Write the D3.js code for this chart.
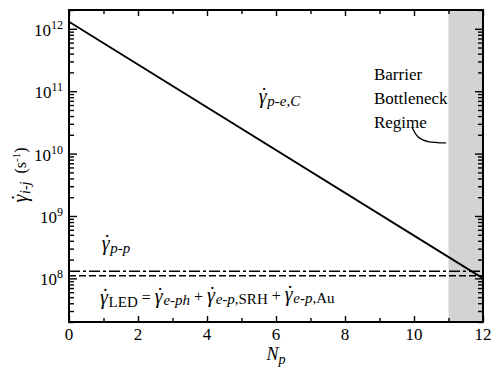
<!DOCTYPE html>
<html>
<head>
<meta charset="utf-8">
<script src="https://d3js.org/d3.v7.min.js"></script>
</head>
<body style="margin:0">
<script>
// values
var npValues = [0, 12]
var gammaPeC = [1.3e12, 1.0e8]
var gammaPp = [1.3e8, 1.3e8]
var gammaLed = [1.1e8, 1.1e8]
var barrierRange = [11, 12]
var xTickLabels = [0, 2, 4, 6, 8, 10, 12]
var yTickExps = [8, 9, 10, 11, 12]
var regimeLines = ["Barrier", "Bottleneck", "Regime"]
var calloutNp = [9.94, 10.12, 10.41, 10.93]
var calloutRate = [2.67e10, 1.85e10, 1.56e10, 1.48e10]

var w = 496, h = 369
var margin = {top:10, right:13, bottom:47, left:69}
var iw = w - margin.left - margin.right
var ih = h - margin.top - margin.bottom
var serif = "Liberation Serif"

var xScale = d3.scaleLinear().domain([0,12]).range([0,iw])
var yScale = d3.scaleLog().domain([2e7,2e12]).range([ih,0])

var svg = d3.select("body").append("svg")
	.attr("width",w).attr("height",h)
var g = svg.append("g").attr("transform","translate("+margin.left+","+margin.top+")")

// shaded barrier bottleneck regime
g.append("rect")
	.attr("x",xScale(barrierRange[0]))
	.attr("y",0)
	.attr("width",xScale(barrierRange[1])-xScale(barrierRange[0]))
	.attr("height",ih)
	.attr("fill","#d3d3d3")

// ticks
var xMajor = xTickLabels
var xMinor = d3.range(1,12,2)
var yMajor = yTickExps.map(function(e){ return Math.pow(10,e) })
var yMinor = []
for(var e=7;e<=12;e++){
	for(var k=2;k<=9;k++){
		var v = k*Math.pow(10,e)
		if(v>=2e7 && v<=2e12) yMinor.push(v)
	}
}

function addAxis(axis, vals, size, tr){
	var a = g.append("g").attr("transform",tr)
		.call(axis.tickValues(vals).tickSize(size).tickFormat(""))
	a.select(".domain").remove()
	a.selectAll("text").remove()
	a.selectAll("line").attr("stroke","#000").attr("stroke-width",1.4)
}
addAxis(d3.axisBottom(xScale), xMajor, -6, "translate(0,"+ih+")")
addAxis(d3.axisBottom(xScale), xMinor, -4, "translate(0,"+ih+")")
addAxis(d3.axisTop(xScale), xMajor, -6, "translate(0,0)")
addAxis(d3.axisTop(xScale), xMinor, -4, "translate(0,0)")
addAxis(d3.axisLeft(yScale), yMajor, -8, "translate(0,0)")
addAxis(d3.axisLeft(yScale), yMinor, -5, "translate(0,0)")
addAxis(d3.axisRight(yScale), yMajor, -8, "translate("+iw+",0)")
addAxis(d3.axisRight(yScale), yMinor, -5, "translate("+iw+",0)")

// tick labels
g.selectAll(".xlab").data(xTickLabels).enter().append("text")
	.attr("class","xlab")
	.attr("x",function(d){ return xScale(d) })
	.attr("y",ih+18)
	.attr("text-anchor","middle")
	.style("font-family",serif)
	.attr("font-size",17)
	.text(function(d){ return d })

var ylab = g.selectAll(".ylab").data(yTickExps).enter().append("text")
	.attr("class","ylab")
	.attr("x",-6)
	.attr("y",function(d){ return yScale(Math.pow(10,d))+7 })
	.attr("text-anchor","end")
	.style("font-family",serif)
	.attr("font-size",17)
ylab.append("tspan").text("10")
ylab.append("tspan").attr("font-size",12).attr("dy",-7).text(function(d){ return d })

// lines
var line = d3.line()
	.x(function(d){ return xScale(d[0]) })
	.y(function(d){ return yScale(d[1]) })

function drawSeries(vals, dash, width){
	g.append("path")
		.datum(npValues.map(function(n,i){ return [n, vals[i]] }))
		.attr("d",line)
		.attr("fill","none")
		.attr("stroke","#000")
		.attr("stroke-width",width)
		.attr("stroke-dasharray",dash)
}
drawSeries(gammaPp, "11,3,3,3", 1.6)
drawSeries(gammaLed, "7,3", 1.6)
drawSeries(gammaPeC, null, 1.8)

// frame
g.append("rect")
	.attr("width",iw).attr("height",ih)
	.attr("fill","none").attr("stroke","#000").attr("stroke-width",2)

// rich text helper: parts with size, italic, shift; gamma gets a dot above
function rich(parent, x, y, parts){
	var t = parent.append("text").attr("x",x).attr("y",y)
		.style("font-family",serif)
	var shift = 0
	parts.forEach(function(p){
		var s = p.shift || 0
		if(p.gamma){
			t.append("tspan").attr("dy",s-shift).attr("font-size",20)
				.attr("font-style","italic").text("\u03b3")
			t.append("tspan").attr("dx",-6).attr("dy",-1).attr("font-size",20).text("\u02d9")
			t.append("tspan").attr("dx",-1).attr("dy",1).attr("font-size",20).text("")
		}else{
			t.append("tspan")
				.attr("dy",s-shift)
				.attr("font-size",p.size)
				.attr("font-style",p.italic ? "italic" : "normal")
				.text(p.t)
		}
		shift = s
	})
	return t
}
var gam = {gamma:true}
var sp = "\u00a0"

rich(g, xScale(5.5), yScale(6.5e10), [
	gam,
	{t:"p-e,C",size:15,italic:true,shift:4}
])
rich(g, xScale(0.95), yScale(2.85e8), [
	gam,
	{t:"p-p",size:15,italic:true,shift:4}
])
rich(g, xScale(0.9), yScale(3.9e7), [
	gam,
	{t:"LED",size:15,shift:4},
	{t:sp+"="+sp,size:16},
	gam,
	{t:"e-ph",size:15,italic:true,shift:3},
	{t:sp+"+"+sp,size:16},
	gam,
	{t:"e-p,",size:15,italic:true,shift:3},
	{t:"SRH",size:15,shift:3},
	{t:sp+"+"+sp,size:16},
	gam,
	{t:"e-p,",size:15,italic:true,shift:3},
	{t:"Au",size:15,shift:3}
])

// y axis title
var yTitle = svg.append("g").attr("transform","translate(27,175) rotate(-90)")
rich(yTitle, 0, 0, [
	gam,
	{t:"i-j",size:14,italic:true,shift:4},
	{t:sp+sp+"(s",size:16},
	{t:"-1",size:11,shift:-6},
	{t:")",size:16}
]).attr("text-anchor","middle")

// x axis title
rich(g, xScale(6), ih+38, [
	{t:"N",size:18,italic:true},
	{t:"p",size:14,italic:true,shift:4}
]).attr("text-anchor","middle")

// regime annotation
g.selectAll(".regime").data(regimeLines).enter().append("text")
	.attr("class","regime")
	.attr("x",xScale(8.84))
	.attr("y",function(d,i){ return yScale(1.51e11)+i*24 })
	.style("font-family",serif)
	.attr("font-size",17)
	.text(function(d){ return d })

g.append("path")
	.datum(calloutNp.map(function(n,i){ return [n, calloutRate[i]] }))
	.attr("d",line.curve(d3.curveCardinal))
	.attr("fill","none")
	.attr("stroke","#000")
	.attr("stroke-width",1.3)
</script>
</body>
</html>
